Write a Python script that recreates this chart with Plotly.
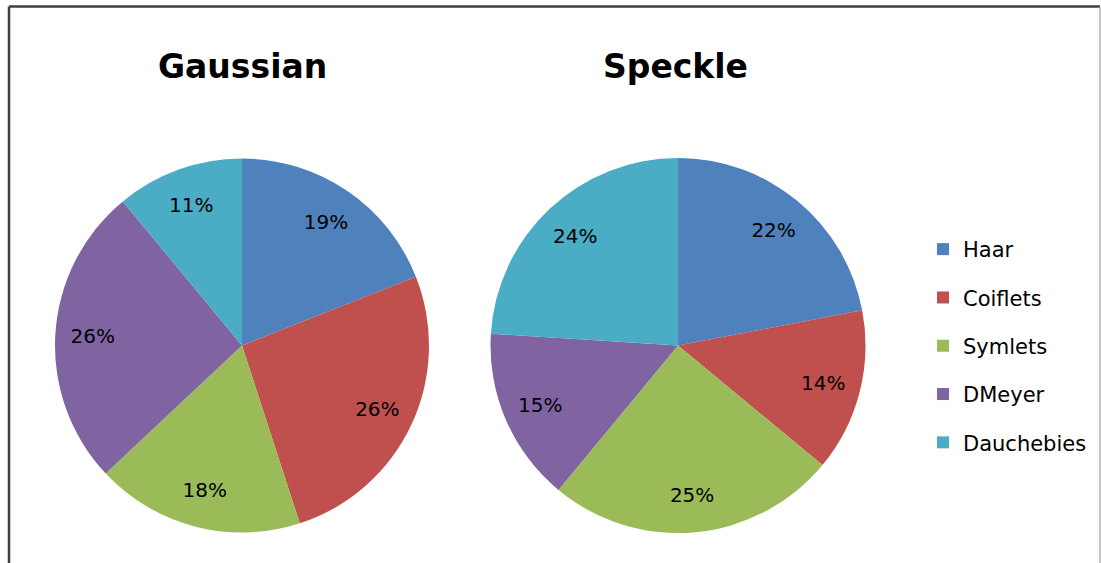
import plotly.graph_objects as go

W, H = 1101, 563

labels = ["Haar", "Coiflets", "Symlets", "DMeyer", "Dauchebies"]
gaussian = [19, 26, 18, 26, 11]
speckle = [22, 14, 25, 15, 24]
colors = ["#4F81BD", "#C0504D", "#9BBB59", "#8064A2", "#4BACC6"]
titles = ["Gaussian", "Speckle"]

FONT = "DejaVu Sans, Verdana, sans-serif"

def px_x(p):
    return p / W

def px_y(p):
    return 1 - p / H

fig = go.Figure()

for vals, (x0, x1) in [(gaussian, (55, 429)), (speckle, (490, 866))]:
    dom = dict(x=[px_x(x0), px_x(x1)], y=[px_y(533), px_y(158)])
    fig.add_trace(go.Pie(
        labels=labels, values=vals, sort=False, direction="clockwise", rotation=0,
        marker=dict(colors=colors, line=dict(width=0)),
        textinfo="none", domain=dom, showlegend=False, hoverinfo="label+percent",
    ))
    # transparent ring carrying the percentage labels (placed in the outer part of each slice)
    fig.add_trace(go.Pie(
        labels=labels, values=vals, sort=False, direction="clockwise", rotation=0,
        hole=0.6,
        marker=dict(colors=["rgba(0,0,0,0)"] * len(vals), line=dict(width=0)),
        texttemplate="%{percent:.0%}",
        textposition="inside", insidetextorientation="horizontal",
        textfont=dict(family=FONT, size=20, color="black"),
        domain=dom, showlegend=False, hoverinfo="skip",
    ))

for lab, col in zip(labels, colors):
    fig.add_trace(go.Scatter(
        x=[None], y=[None], mode="markers", name=lab, legendgroup=lab,
        marker=dict(symbol="square", size=13, color=col),
        showlegend=True,
    ))

for t, cx in zip(titles, [242, 675]):
    fig.add_annotation(text="<b>%s</b>" % t, x=px_x(cx), y=px_y(67), xref="paper", yref="paper",
                       showarrow=False, font=dict(family=FONT, size=33, color="black"),
                       xanchor="center", yanchor="middle")

# chart border
fig.add_shape(type="line", xref="paper", yref="paper", x0=px_x(9), x1=px_x(1100), y0=px_y(6.5), y1=px_y(6.5),
              line=dict(color="#3f3f3f", width=2.5))
fig.add_shape(type="line", xref="paper", yref="paper", x0=px_x(9), x1=px_x(9), y0=px_y(6.5), y1=-0.05,
              line=dict(color="#3f3f3f", width=2.5))
fig.add_shape(type="line", xref="paper", yref="paper", x0=px_x(1100), x1=px_x(1100), y0=px_y(7), y1=-0.05,
              line=dict(color="#b5b5b5", width=1.5))

fig.update_layout(
    width=W, height=H,
    margin=dict(l=0, r=0, t=0, b=0),
    paper_bgcolor="white", plot_bgcolor="white",
    xaxis=dict(visible=False), yaxis=dict(visible=False),
    legend=dict(x=px_x(923), y=px_y(229), xanchor="left", yanchor="top",
                font=dict(family=FONT, size=21, color="black"),
                traceorder="grouped", tracegroupgap=18, itemsizing="constant",
                bgcolor="rgba(0,0,0,0)"),
    font=dict(family=FONT),
)

fig.write_html("out.html", config={"displayModeBar": False},
               post_script="document.body.style.margin='0';")
